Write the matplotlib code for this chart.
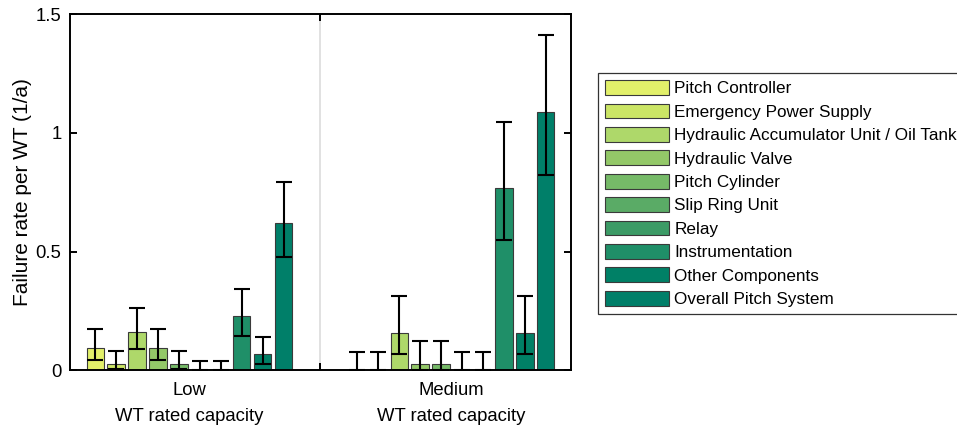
import numpy as np
import matplotlib.pyplot as plt

plt.rcParams['font.family'] = ['Liberation Sans', 'DejaVu Sans']

components = ['Pitch Controller', 'Emergency Power Supply',
              'Hydraulic Accumulator Unit / Oil Tank', 'Hydraulic Valve',
              'Pitch Cylinder', 'Slip Ring Unit', 'Relay', 'Instrumentation',
              'Other Components', 'Overall Pitch System']
colors = ['#e2f06a', '#cbe565', '#aed86a', '#93c868', '#76ba68',
          '#5aab66', '#3c9b66', '#1f8f68', '#008066', '#007f69']

groups = ['Low\nWT rated capacity', 'Medium\nWT rated capacity']

# failure rate and confidence bounds, low capacity class
low_rate = [0.093, 0.025, 0.160, 0.093, 0.025, 0.0, 0.0, 0.229, 0.067, 0.621]
low_lo = [0.045, 0.005, 0.091, 0.045, 0.005, 0.0, 0.0, 0.146, 0.025, 0.478]
low_hi = [0.175, 0.081, 0.264, 0.175, 0.081, 0.039, 0.039, 0.344, 0.141, 0.793]

# medium capacity class
med_rate = [0.0, 0.0, 0.156, 0.025, 0.025, 0.0, 0.0, 0.768, 0.156, 1.086]
med_lo = [0.0, 0.0, 0.067, 0.001, 0.001, 0.0, 0.0, 0.550, 0.067, 0.824]
med_hi = [0.077, 0.077, 0.313, 0.123, 0.123, 0.077, 0.077, 1.047, 0.313, 1.412]

centers = [0.0, 12.5]

fig = plt.figure(figsize=(9.57, 4.28), dpi=100)
ax = fig.add_axes([0.0731, 0.1348, 0.5236, 0.8322])

ax.axvline(np.mean(centers), color='#dcdcdc', lw=1.2, zorder=0)

for i, name in enumerate(components):
    xs = [c + (i - 4.5) for c in centers]
    vals = [low_rate[i], med_rate[i]]
    lo = [low_lo[i], med_lo[i]]
    hi = [low_hi[i], med_hi[i]]
    ax.bar(xs, vals, width=0.82, color=colors[i], edgecolor='#3a3a3a',
           linewidth=0.8, label=name, zorder=2)
    err = [np.subtract(vals, lo), np.subtract(hi, vals)]
    ax.errorbar(xs, vals, yerr=err, fmt='none', ecolor='black',
                elinewidth=1.5, capsize=5.9, capthick=1.5, zorder=3)

ax.set_xlim(-5.7, 18.2)
ax.set_ylim(0, 1.5)
ax.set_yticks([0, 0.5, 1, 1.5])
ax.set_yticklabels(['0', '0.5', '1', '1.5'])
ax.set_xticks(centers)
ax.set_xticklabels(groups, linespacing=1.7)
ax.set_xticks([np.mean(centers)], minor=True)
ax.tick_params(axis='x', which='major', length=0, pad=8.5, labelsize=13.3)
ax.tick_params(axis='x', which='minor', direction='in', length=5, width=1.4,
               top=True, bottom=True)
ax.tick_params(axis='y', direction='in', length=5, width=1.4, right=True,
               labelsize=13.3, pad=6)
for s in ax.spines.values():
    s.set_linewidth(1.4)

ax.set_ylabel('Failure rate per WT (1/a)', fontsize=15, labelpad=3)

leg = fig.legend(loc='upper left', bbox_to_anchor=(598 / 957, 1 - 73 / 428),
                 fontsize=12.3, fancybox=False, framealpha=1,
                 edgecolor='#333333', handlelength=3.75, handleheight=0.95,
                 handletextpad=0.3, labelspacing=0.42, borderpad=0.42,
                 borderaxespad=0)
leg.get_frame().set_linewidth(0.9)

fig.savefig('out.png', dpi=100)
